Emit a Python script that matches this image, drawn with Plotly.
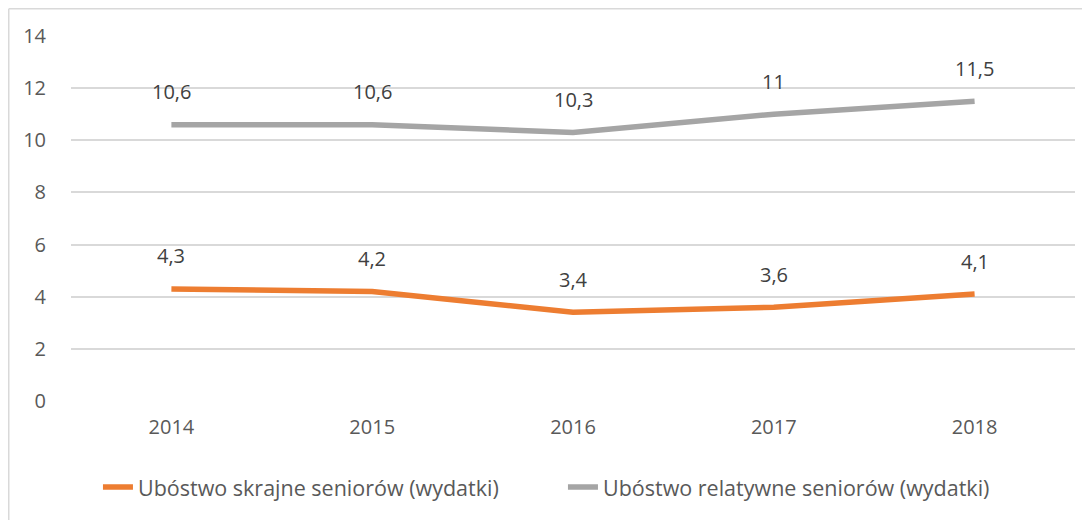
import plotly.graph_objects as go

years = ["2014", "2015", "2016", "2017", "2018"]
skrajne = [4.3, 4.2, 3.4, 3.6, 4.1]
relatywne = [10.6, 10.6, 10.3, 11.0, 11.5]
skrajne_labels = ["4,3", "4,2", "3,4", "3,6", "4,1"]
relatywne_labels = ["10,6", "10,6", "10,3", "11", "11,5"]

font_color = "#595959"
orange = "#ED7D31"
gray = "#A5A5A5"

fig = go.Figure()
fig.add_trace(go.Scatter(x=years, y=skrajne, mode="lines",
                         name="Ubóstwo skrajne seniorów (wydatki)",
                         line=dict(color=orange, width=5.5)))
fig.add_trace(go.Scatter(x=years, y=relatywne, mode="lines",
                         name="Ubóstwo relatywne seniorów (wydatki)",
                         line=dict(color=gray, width=5.5)))

# data labels above each point
for vals, labels in [(skrajne, skrajne_labels), (relatywne, relatywne_labels)]:
    for i, (y, t) in enumerate(zip(vals, labels)):
        fig.add_annotation(x=i, y=y, xref="x", yref="y", text=t, showarrow=False,
                           yshift=33, font=dict(size=20, color="#404040"))

# partial frame (left and top edges) at the very edge of the figure
fx = (0.75 - 63) / 1004
fy = (393 - 0.75) / 365
fig.add_shape(type="line", xref="paper", yref="paper",
              x0=fx, x1=fx, y0=fy, y1=-0.4,
              line=dict(color="#D9D9D9", width=1.5))
fig.add_shape(type="line", xref="paper", yref="paper",
              x0=fx, x1=1.05, y0=fy, y1=fy,
              line=dict(color="#D9D9D9", width=1.5))

fig.update_layout(
    width=1090, height=520,
    margin=dict(l=63, r=23, t=28, b=127),
    paper_bgcolor="white", plot_bgcolor="white",
    font=dict(family="Open Sans, Liberation Sans, sans-serif", size=20, color=font_color),
    showlegend=True,
    legend=dict(orientation="h", x=0.49, xanchor="center", y=-0.236, yanchor="middle",
                entrywidth=420, entrywidthmode="pixels",
                font=dict(size=21.5, color=font_color), traceorder="normal"),
)
fig.update_xaxes(type="category", range=[-0.5, 4.5], showgrid=False, zeroline=False,
                 showline=False, ticks="outside", ticklen=8, tickcolor="white",
                 tickfont=dict(size=20, color=font_color))
fig.update_yaxes(range=[0, 14], dtick=2, showgrid=True, gridcolor="#D9D9D9", gridwidth=1.5,
                 zeroline=False, showline=False, ticks="outside", ticklen=20, tickcolor="white",
                 tickfont=dict(size=20, color=font_color))

fig.write_html("out.html")
